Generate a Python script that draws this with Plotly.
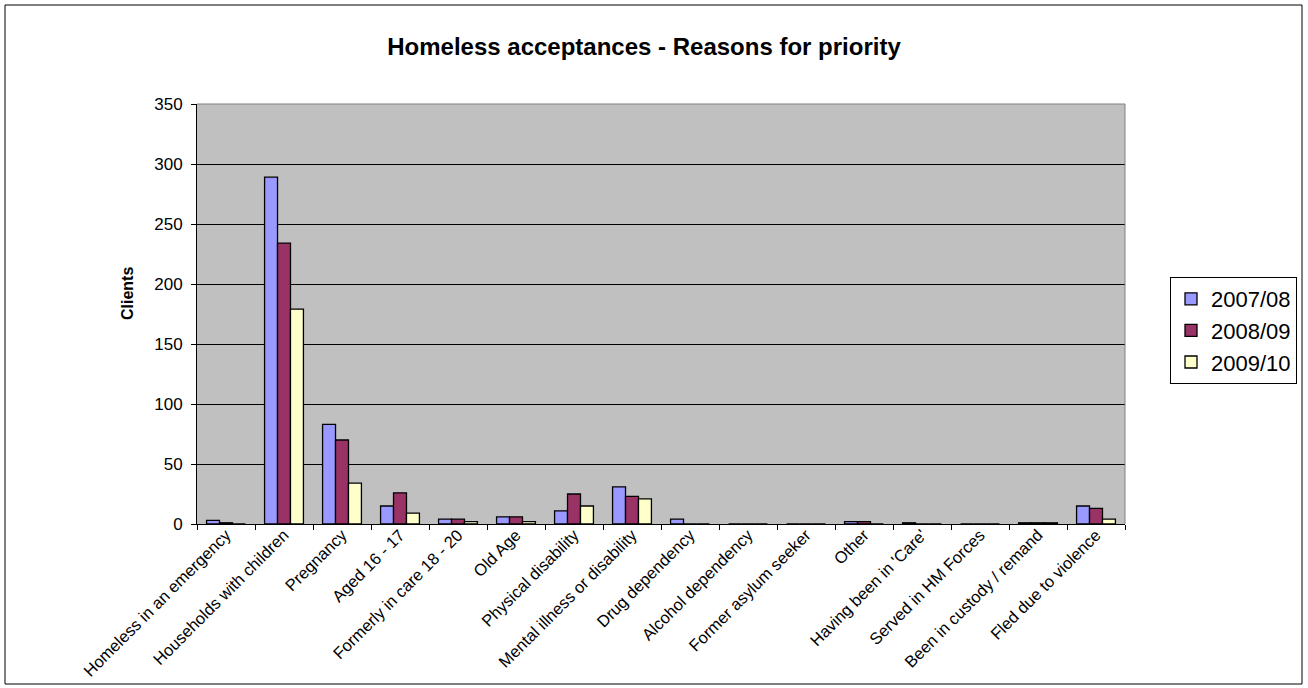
import plotly.graph_objects as go

categories = [
    "Homeless in an emergency", "Households with children", "Pregnancy",
    "Aged 16 - 17", "Formerly in care 18 - 20", "Old Age", "Physical disability",
    "Mental illness or disability", "Drug dependency", "Alcohol dependency",
    "Former asylum seeker", "Other", "Having been in 'Care'", "Served in HM Forces",
    "Been in custody / remand", "Fled due to violence",
]
series_names = ["2007/08", "2008/09", "2009/10"]
v2007 = [3, 289, 83, 15, 4, 6, 11, 31, 4, 0, 0, 2, 1, 0, 1, 15]
v2008 = [1, 234, 70, 26, 4, 6, 25, 23, 0, 0, 0, 2, 0, 0, 1, 13]
v2009 = [0, 179, 34, 9, 2, 2, 15, 21, 0, 0, 0, 0, 0, 0, 1, 4]
colors = ["#9999FF", "#993366", "#FFFFCC"]
y_ticks = [0, 50, 100, 150, 200, 250, 300, 350]

W, H = 1308, 688
L, R, T, B = 197, 1125, 104, 524
pw, ph = R - L, B - T

def px(x):
    return (x - L) / pw

def py(y):
    return (B - y) / ph

FONT = "Liberation Sans, Arial, sans-serif"

fig = go.Figure()
for name, vals, col in zip(series_names, [v2007, v2008, v2009], colors):
    fig.add_trace(go.Bar(
        x=categories, y=vals, name=name,
        marker=dict(color=col, line=dict(color="black", width=1.3)),
    ))

fig.update_layout(
    width=W, height=H,
    margin=dict(l=L, r=W - R, t=T, b=H - B, autoexpand=False),
    paper_bgcolor="white", plot_bgcolor="#C0C0C0",
    barmode="group", bargap=0.33, bargroupgap=0,
    font=dict(family=FONT, color="black"),
    title=dict(text="<b>Homeless acceptances - Reasons for priority</b>",
               x=644 / W, y=1 - 47 / H, xref="container", yref="container",
               xanchor="center", yanchor="middle",
               font=dict(size=24, family=FONT, color="black")),
    legend=dict(x=px(1170), y=py(277), xanchor="left", yanchor="top",
                bordercolor="black", borderwidth=1, bgcolor="white",
                font=dict(size=22, family=FONT, color="black"),
                itemwidth=30, tracegroupgap=4),
    showlegend=True,
)

fig.update_yaxes(
    range=[0, 350], tickvals=y_ticks, showgrid=True, gridcolor="black", gridwidth=1,
    ticks="outside", ticklen=5, tickcolor="black", showline=True, linecolor="black",
    linewidth=1, tickfont=dict(size=17, family=FONT), ticklabelstandoff=5,
    zeroline=False,
)
fig.update_xaxes(
    tickson="boundaries", ticks="outside", ticklen=5, tickcolor="black",
    showline=True, linecolor="black", linewidth=1, tickangle=-45,
    tickfont=dict(size=16.5, family=FONT), showgrid=False, ticklabelstandoff=-6,
)

# plot area border (gray top and right)
fig.add_shape(type="line", xref="paper", yref="paper", x0=0, x1=1, y0=1, y1=1,
              line=dict(color="#808080", width=1))
fig.add_shape(type="line", xref="paper", yref="paper", x0=1, x1=1, y0=0, y1=1,
              line=dict(color="#808080", width=1))
# chart outer border
fig.add_shape(type="rect", xref="paper", yref="paper",
              x0=px(5), x1=px(1302), y0=py(684), y1=py(5),
              line=dict(color="black", width=1), layer="below")

fig.add_annotation(text="<b>Clients</b>", xref="paper", yref="paper",
                   x=px(127), y=py(294), xanchor="center", yanchor="middle",
                   textangle=-90, showarrow=False,
                   font=dict(size=16, family=FONT, color="black"))

fig.write_html("out.html", post_script="document.body.style.margin='0';",
               config={"displayModeBar": False})
